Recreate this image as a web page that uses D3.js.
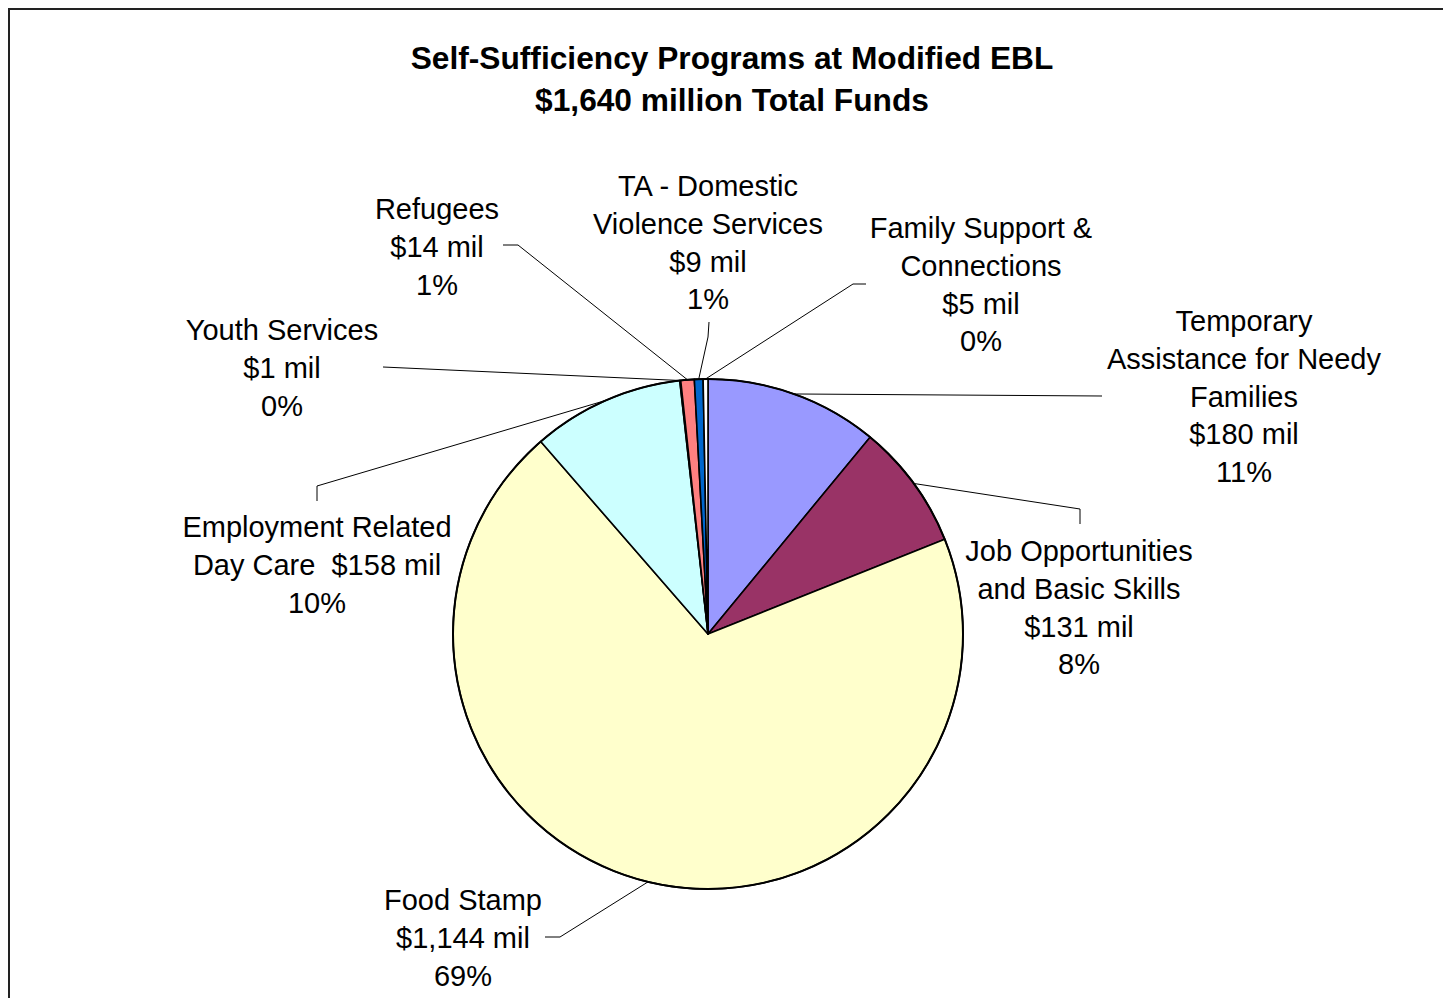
<!DOCTYPE html>
<html>
<head>
<meta charset="utf-8">
<script src="https://cdn.jsdelivr.net/npm/d3@7"></script>
<style>
    body { margin: 0; background: #fff; }
    text { font-family: "Liberation Sans", Arial, sans-serif; fill: #000; }
</style>
</head>
<body>
<svg id="chart"></svg>
<script>
// Data (clockwise from 12 o'clock)
let programs = ["Temporary Assistance for Needy Families", "Job Opportunities and Basic Skills", "Food Stamp",
    "Employment Related Day Care", "Youth Services", "Refugees", "TA - Domestic Violence Services",
    "Family Support & Connections"];
let funds = [180, 131, 1144, 158, 1, 14, 9, 5];
let percents = ["11%", "8%", "69%", "10%", "0%", "1%", "1%", "0%"];
let nameLines = [
    ["Temporary", "Assistance for Needy", "Families"],
    ["Job Opportunities", "and Basic Skills"],
    ["Food Stamp"],
    ["Employment Related", "Day Care"],
    ["Youth Services"],
    ["Refugees"],
    ["TA - Domestic", "Violence Services"],
    ["Family Support &", "Connections"]
];
let colors = ["#9999FF", "#993366", "#FFFFCC", "#CCFFFF", "#660066", "#FF8080", "#0066CC", "#FFFFFF"];
let titleLines = ["Self-Sufficiency Programs at Modified EBL", "$1,640 million Total Funds"];

// Label placement: text centre, first line centre y, leader points near the label
let labelPos = [
    {x: 1244, y: 321, pts: [[1102, 396]]},
    {x: 1079, y: 551, pts: [[1080, 524], [1080, 509]]},
    {x: 463, y: 900, pts: [[545, 937], [560, 937]]},
    {x: 317, y: 527, pts: [[317, 501], [317, 486]], inline: true},
    {x: 282, y: 330, pts: [[383, 367]]},
    {x: 437, y: 209, pts: [[503, 245], [518, 245]]},
    {x: 708, y: 186, pts: [[709, 322], [708, 337]]},
    {x: 981, y: 228, pts: [[866, 284], [853, 284]]}
];

let width = 1443;
let height = 998;
let cx = 708, cy = 634, radius = 255;
let lineHeight = 37.8;

let svg = d3.select("#chart").attr("width", width).attr("height", height);

// frame (runs off the right and bottom edge)
svg.append("rect")
    .attr("x", 9).attr("y", 9)
    .attr("width", width + 20).attr("height", height + 20)
    .attr("fill", "none").attr("stroke", "#222").attr("stroke-width", 2);

// title
svg.selectAll(".title")
    .data(titleLines)
    .enter()
    .append("text")
    .attr("class", "title")
    .attr("x", 732)
    .attr("y", function(d, i){ return 69 + i * 42; })
    .attr("text-anchor", "middle")
    .style("font-weight", "bold")
    .style("font-size", "31.7px")
    .text(function(d){ return d; });

let pie = d3.pie().sort(null).value(function(d){ return d; });
let arcs = pie(funds);
let arc = d3.arc().innerRadius(0).outerRadius(radius);
let edge = d3.arc().innerRadius(radius).outerRadius(radius);

let g = svg.append("g").attr("transform", "translate(" + cx + "," + cy + ")");

g.selectAll(".slice")
    .data(arcs)
    .enter()
    .append("path")
    .attr("class", "slice")
    .attr("d", arc)
    .attr("fill", function(d, i){ return colors[i]; })
    .attr("stroke", "#000")
    .attr("stroke-width", 1.6)
    .attr("stroke-linejoin", "round");

// outer rim a bit heavier
g.append("circle")
    .attr("r", radius)
    .attr("fill", "none")
    .attr("stroke", "#000")
    .attr("stroke-width", 2);

// leader lines
let line = d3.line();
svg.selectAll(".leader")
    .data(arcs)
    .enter()
    .append("path")
    .attr("class", "leader")
    .attr("d", function(d, i){
        let c = edge.centroid(d);
        let pts = labelPos[i].pts.concat([[cx + c[0], cy + c[1]]]);
        return line(pts);
    })
    .attr("fill", "none")
    .attr("stroke", "#000")
    .attr("stroke-width", 1);

// labels
let fmt = d3.format(",");
arcs.forEach(function(d, i){
    let p = labelPos[i];
    let lines = nameLines[i].slice();
    let value = "$" + fmt(funds[i]) + " mil";
    if(p.inline){
        lines[lines.length - 1] = lines[lines.length - 1] + "  " + value;
    } else {
        lines.push(value);
    }
    lines.push(percents[i]);

    let t = svg.append("text")
        .attr("text-anchor", "middle")
        .style("font-size", "29px")
        .style("white-space", "pre");
    lines.forEach(function(s, k){
        t.append("tspan")
            .attr("x", p.x)
            .attr("y", p.y + 10 + k * lineHeight)
            .text(s);
    });
});
</script>
</body>
</html>
